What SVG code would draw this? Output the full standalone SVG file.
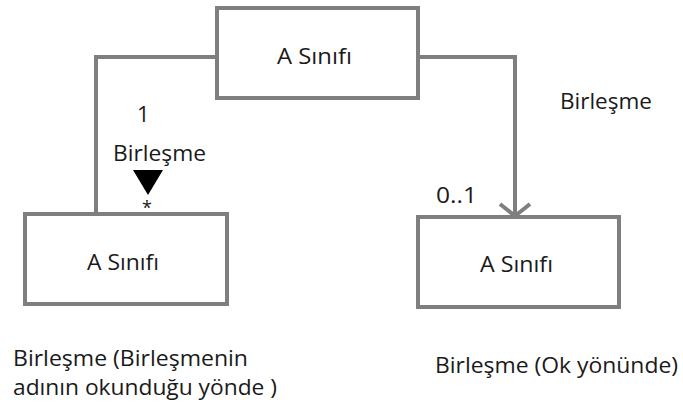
<svg xmlns="http://www.w3.org/2000/svg" width="683" height="409" viewBox="0 0 683 409">
<style>
.box{fill:#fff;stroke:#7f7f7f;stroke-width:4}
.ln{fill:none;stroke:#7f7f7f;stroke-width:4}
text{font-family:"Open Sans","Liberation Sans",sans-serif;font-size:22px;fill:#1a1a1a}
.c{text-anchor:middle}
</style>
<g id="connectors">
<polyline class="ln" points="217,57 96,57 96,214"/>
<polyline class="ln" points="418,57 515,57 515,217"/>
<polyline class="ln" points="500,204 515,216 530,204"/>
<polygon points="133,170 163,170 148,195" fill="#000"/>
</g>
<g id="nodeTop">
<rect class="box" x="217" y="8" width="201" height="90"/>
<text x="277" y="64" textLength="75" lengthAdjust="spacingAndGlyphs">A Sınıfı</text>
</g>
<g id="nodeLeft">
<rect class="box" x="25" y="214" width="202" height="90"/>
<text x="87" y="270" textLength="72" lengthAdjust="spacingAndGlyphs">A Sınıfı</text>
</g>
<g id="nodeRight">
<rect class="box" x="418" y="217" width="201" height="90"/>
<text x="480" y="272" textLength="73" lengthAdjust="spacingAndGlyphs">A Sınıfı</text>
</g>
<g id="labels">
<text x="137" y="122">1</text>
<text x="113" y="161" textLength="93" lengthAdjust="spacingAndGlyphs">Birleşme</text>
<text class="c" x="147" y="214" style="font-size:18px">*</text>
<text x="436" y="203" textLength="41" lengthAdjust="spacingAndGlyphs">0..1</text>
<text x="560" y="109" textLength="92" lengthAdjust="spacingAndGlyphs">Birleşme</text>
<text x="13" y="366" textLength="235" lengthAdjust="spacingAndGlyphs">Birleşme (Birleşmenin</text>
<text x="13" y="395" textLength="264" lengthAdjust="spacingAndGlyphs">adının okunduğu yönde )</text>
<text x="435" y="373" textLength="243" lengthAdjust="spacingAndGlyphs">Birleşme (Ok yönünde)</text>
</g>
</svg>
